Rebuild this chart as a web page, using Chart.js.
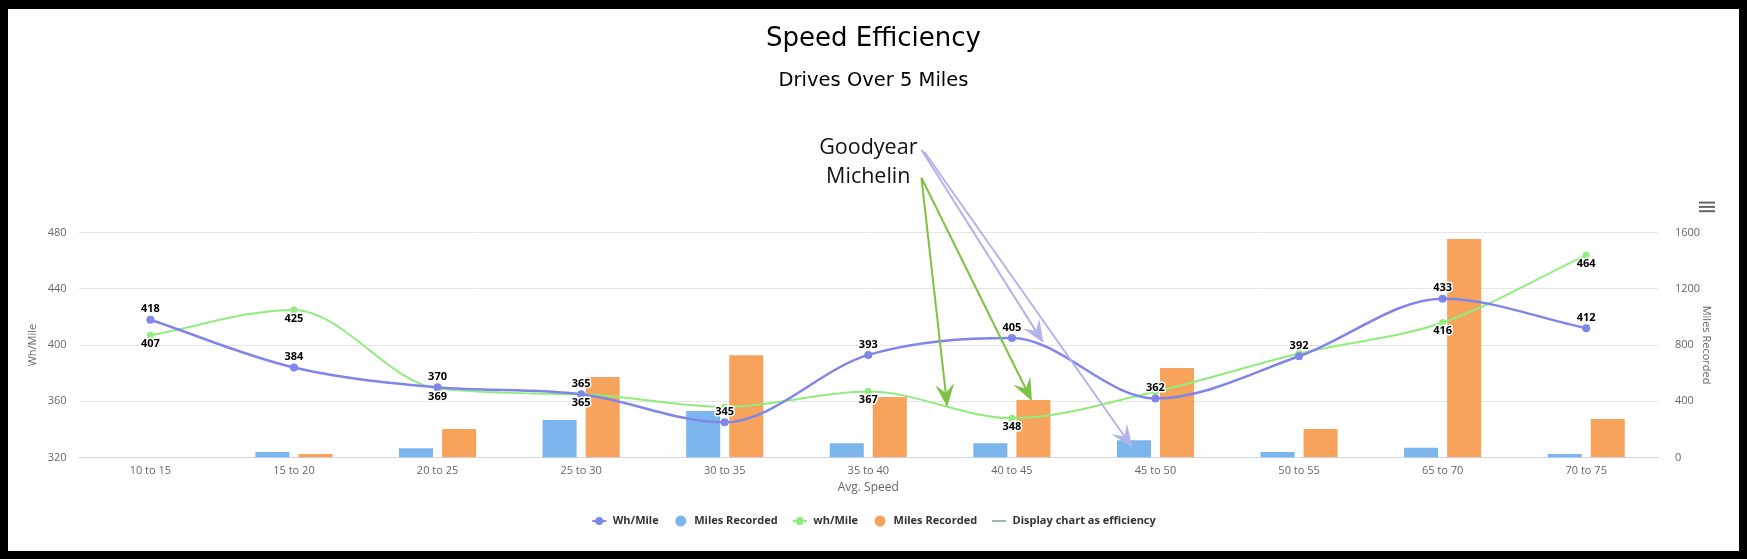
<!DOCTYPE html>
<html>
<head>
<meta charset="utf-8">
<title>Speed Efficiency</title>
<script src="https://cdn.jsdelivr.net/npm/chart.js@4.4.1/dist/chart.umd.min.js"></script>
<style>
  html, body { margin: 0; padding: 0; background: #000; }
  #frame { position: absolute; left: 8px; top: 9px; width: 1731px; height: 542px; background: #fff; }
</style>
</head>
<body>
<div id="frame"><canvas id="speedChart"></canvas></div>
<script>
// speed bands on the x axis
const speedBands = ['10 to 15', '15 to 20', '20 to 25', '25 to 30', '30 to 35', '35 to 40',
  '40 to 45', '45 to 50', '50 to 55', '65 to 70', '70 to 75'];

// Goodyear (purple line + blue bars)
const goodyearWhMile = [418, 384, 370, 365, 345, 393, 405, 362, 392, 433, 412];
const goodyearMiles = [0, 40, 65, 267, 331, 101, 101, 122, 39, 70, 25];

// Michelin (green line + orange bars)
const michelinWhMile = [407, 425, 369, 365, 356, 367, 348, 367, 394, 416, 464];
const michelinMiles = [0, 25, 203, 573, 727, 430, 409, 637, 203, 1554, 274];

const whMileTicks = [320, 360, 400, 440, 480];
const milesTicks = [0, 400, 800, 1200, 1600];

const FONT = '"Open Sans", "Noto Sans", sans-serif';
const HEAD_FONT = '"DejaVu Sans", sans-serif';

// tyre notes + arrows, placed in data units (band index, Wh/Mile)
const notes = [
  { text: 'Goodyear', band: 5, wh: 540, color: '#b3b3ec',
    arrows: [[5.37, 539, 6.22, 401.5], [5.39, 537.5, 6.84, 327]] },
  { text: 'Michelin', band: 5, wh: 520, color: '#7cc243',
    arrows: [[5.37, 519, 5.55, 356], [5.37, 519, 6.14, 360]] }
];

// little legend symbols like highcharts draws them
function makeSymbol(color, withLine, withDot) {
  const c = document.createElement('canvas');
  c.width = 16; c.height = 12;
  const g = c.getContext('2d');
  if (withLine) {
    g.strokeStyle = color; g.lineWidth = 2;
    g.beginPath(); g.moveTo(1, 6); g.lineTo(15, 6); g.stroke();
  }
  if (withDot) {
    g.fillStyle = color;
    g.beginPath(); g.arc(8, 6, withLine ? 4 : 5.5, 0, Math.PI * 2); g.fill();
  }
  return c;
}

const noteArrows = {
  id: 'noteArrows',
  afterDatasetsDraw(chart) {
    const {ctx, scales: {x, y}} = chart;
    ctx.save();
    notes.forEach(n => {
      ctx.font = '21.5px ' + FONT;
      ctx.fillStyle = '#111';
      ctx.textAlign = 'center';
      ctx.textBaseline = 'middle';
      ctx.fillText(n.text, x.getPixelForValue(n.band), y.getPixelForValue(n.wh));
      n.arrows.forEach(a => {
        const x0 = x.getPixelForValue(a[0]), y0 = y.getPixelForValue(a[1]);
        const x1 = x.getPixelForValue(a[2]), y1 = y.getPixelForValue(a[3]);
        const len = Math.hypot(x1 - x0, y1 - y0);
        const ux = (x1 - x0) / len, uy = (y1 - y0) / len;
        const L = 23, W = 9.5, N = 14;
        ctx.strokeStyle = n.color; ctx.fillStyle = n.color; ctx.lineWidth = 2;
        ctx.beginPath(); ctx.moveTo(x0, y0); ctx.lineTo(x1 - ux * N, y1 - uy * N); ctx.stroke();
        ctx.beginPath();
        ctx.moveTo(x1, y1);
        ctx.lineTo(x1 - ux * L - uy * W, y1 - uy * L + ux * W);
        ctx.lineTo(x1 - ux * N, y1 - uy * N);
        ctx.lineTo(x1 - ux * L + uy * W, y1 - uy * L - ux * W);
        ctx.closePath(); ctx.fill();
      });
    });
    // export menu icon
    const ix = chart.chartArea.right + 41, iy = chart.chartArea.top - 30;
    ctx.strokeStyle = '#666'; ctx.lineWidth = 2;
    [0, 4.3, 8.6].forEach(d => {
      ctx.beginPath(); ctx.moveTo(ix, iy + d); ctx.lineTo(ix + 16, iy + d); ctx.stroke();
    });
    ctx.restore();
  }
};

// value labels: purple above, green below, skip overlaps
const valueLabels = {
  id: 'valueLabels',
  afterDatasetsDraw(chart) {
    const ctx = chart.ctx;
    ctx.save();
    ctx.font = 'bold 11px ' + FONT;
    ctx.textAlign = 'center';
    ctx.textBaseline = 'middle';
    ctx.lineJoin = 'round';
    ctx.lineWidth = 3;
    ctx.strokeStyle = '#fff';
    ctx.fillStyle = '#000';
    const placed = [];
    [[0, -10.5], [2, 8.5]].forEach(([di, dy]) => {
      const meta = chart.getDatasetMeta(di);
      meta.data.forEach((pt, i) => {
        const txt = String(chart.data.datasets[di].data[i]);
        const w = ctx.measureText(txt).width;
        const ty = pt.y + dy;
        const box = {l: pt.x - w / 2 - 4, r: pt.x + w / 2 + 4, t: ty - 9, b: ty + 9};
        if (placed.some(b => b.l < box.r && box.l < b.r && b.t < box.b && box.t < b.b)) return;
        placed.push(box);
        ctx.strokeText(txt, pt.x, ty);
        ctx.fillText(txt, pt.x, ty);
      });
    });
    ctx.restore();
  }
};

const symbols = [
  makeSymbol('#8085e9', true, true),
  makeSymbol('#7cb5ec', false, true),
  makeSymbol('#90ed7d', true, true),
  makeSymbol('#f7a35c', false, true),
  makeSymbol('#9db3bd', true, false)
];

const ctx = document.getElementById('speedChart').getContext('2d');
const chart = new Chart(ctx, {
  data: {
    labels: speedBands,
    datasets: [
      {type: 'line', label: 'Wh/Mile', data: goodyearWhMile, yAxisID: 'y', order: 0,
        borderColor: '#8085e9', backgroundColor: '#8085e9', borderWidth: 2.5,
        cubicInterpolationMode: 'monotone', pointRadius: 4, pointBorderWidth: 0},
      {type: 'bar', label: 'Miles Recorded', data: goodyearMiles, yAxisID: 'y1', order: 1,
        backgroundColor: '#7cb5ec', categoryPercentage: 0.6, barPercentage: 0.79},
      {type: 'line', label: 'wh/Mile', data: michelinWhMile, yAxisID: 'y', order: 0,
        borderColor: '#90ed7d', backgroundColor: '#90ed7d', borderWidth: 2,
        cubicInterpolationMode: 'monotone', pointRadius: 3.5, pointBorderWidth: 0},
      {type: 'bar', label: 'Miles Recorded', data: michelinMiles, yAxisID: 'y1', order: 1,
        backgroundColor: '#f7a35c', categoryPercentage: 0.6, barPercentage: 0.79},
      {type: 'line', label: 'Display chart as efficiency', data: [], yAxisID: 'y', order: 0,
        borderColor: '#9db3bd', backgroundColor: '#9db3bd', borderWidth: 2}
    ]
  },
  options: {
    responsive: true,
    maintainAspectRatio: false,
    animation: false,
    layout: {padding: {left: 0, right: 0, top: 0, bottom: 14.5}},
    plugins: {
      title: {display: true, text: 'Speed Efficiency', color: '#000',
        font: {family: HEAD_FONT, size: 26, weight: 'normal'}, padding: {top: 15, bottom: 0}},
      subtitle: {display: true, text: 'Drives Over 5 Miles', color: '#000',
        font: {family: HEAD_FONT, size: 19.5, weight: 'normal'}, padding: {top: 14, bottom: 140}},
      legend: {
        position: 'bottom',
        labels: {
          usePointStyle: true, pointStyleWidth: 16, padding: 14, color: '#333',
          font: {family: FONT, size: 11, weight: 'bold'},
          generateLabels: (ch) => ch.data.datasets.map((ds, i) => ({
            text: ds.label, pointStyle: symbols[i], fillStyle: ds.backgroundColor,
            strokeStyle: ds.backgroundColor, lineWidth: 0, fontColor: '#333',
            hidden: !ch.isDatasetVisible(i), datasetIndex: i
          }))
        }
      },
      tooltip: {enabled: false}
    },
    scales: {
      x: {
        grid: {display: false, drawTicks: false},
        border: {display: true, color: '#ccd6eb'},
        ticks: {color: '#666', padding: 7, font: {family: FONT, size: 11}, maxRotation: 0},
        title: {display: true, text: 'Avg. Speed', color: '#666', font: {family: FONT, size: 12},
          padding: {top: 3, bottom: 6.3}},
        afterFit: (s) => { s.height = 44; }
      },
      y: {
        position: 'left', min: 320, max: 480,
        afterBuildTicks: (s) => { s.ticks = whMileTicks.map(v => ({value: v})); },
        grid: {color: '#e6e6e6', drawTicks: false},
        border: {display: false},
        ticks: {color: '#666', padding: 12, font: {family: FONT, size: 11}},
        title: {display: true, text: 'Wh/Mile', color: '#666', font: {family: FONT, size: 11},
          padding: {top: 18, bottom: 0}},
        afterFit: (s) => { s.width = 70.6; }
      },
      y1: {
        position: 'right', min: 0, max: 1600,
        afterBuildTicks: (s) => { s.ticks = milesTicks.map(v => ({value: v})); },
        grid: {display: false},
        border: {display: false},
        ticks: {color: '#666', padding: 9, font: {family: FONT, size: 11},
          callback: (v) => String(v)},
        title: {display: true, text: 'Miles Recorded', color: '#666', font: {family: FONT, size: 11},
          padding: {top: 26.4, bottom: 0}},
        afterFit: (s) => { s.width = 81; }
      }
    }
  },
  plugins: [noteArrows, valueLabels]
});
</script>
</body>
</html>
